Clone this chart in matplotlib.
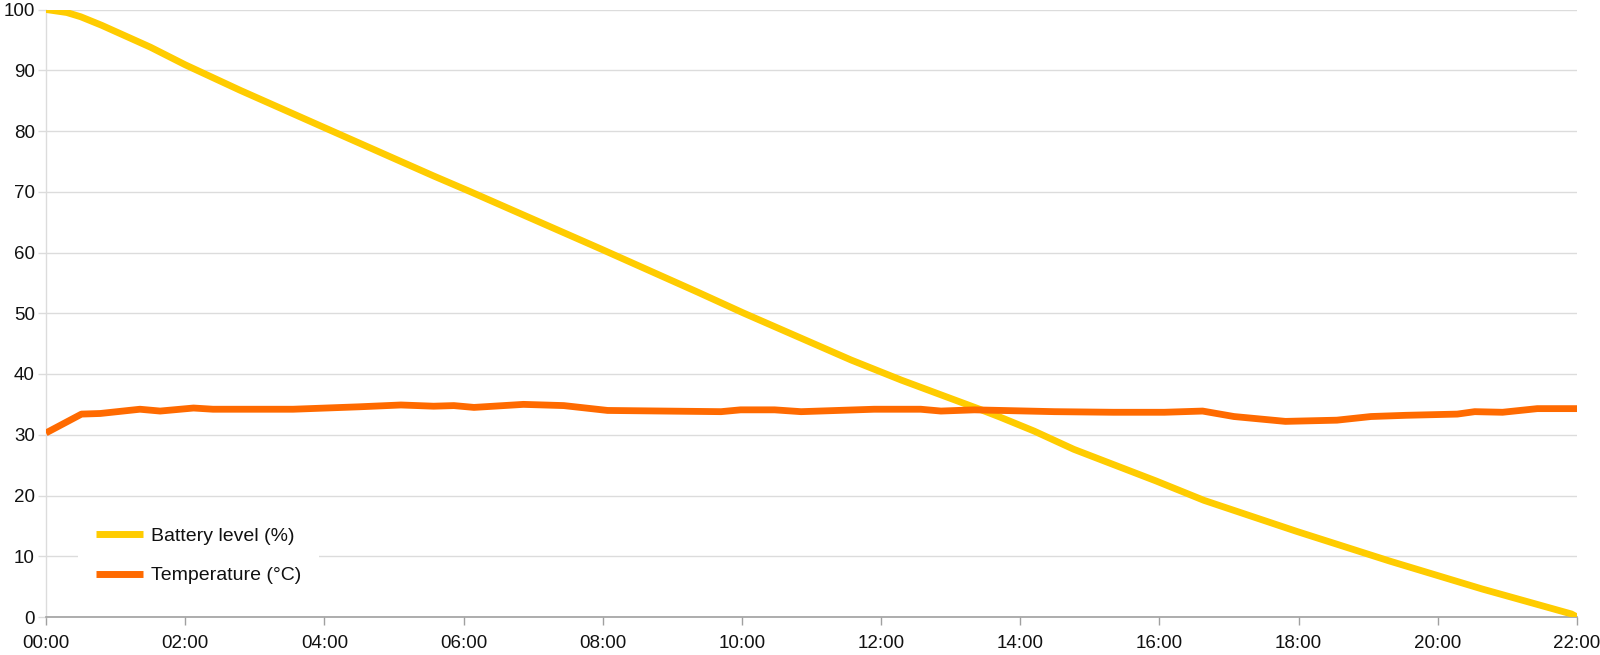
import matplotlib
matplotlib.use("Agg")
import matplotlib.pyplot as plt

# ---- data (hours since start) ----
battery_hours = [0.0, 0.3, 0.5, 0.8, 1.5, 2.0, 2.79, 4.09, 5.57, 6.1, 7.97, 9.36,
                 10.03, 11.57, 12.29, 13.44, 13.71, 14.2, 14.77, 15.95, 16.64,
                 17.97, 19.31, 20.64, 21.92, 22.0]
battery_level = [100.0, 99.5, 98.8, 97.4, 93.8, 90.9, 86.7, 80.1, 72.6, 70.0, 60.6, 53.5,
                 50.0, 42.3, 39.0, 34.1, 32.9, 30.6, 27.6, 22.4, 19.2,
                 14.1, 9.2, 4.6, 0.5, 0.0]

temp_hours = [0.0, 0.51, 0.78, 1.35, 1.64, 2.12, 2.4, 3.55, 4.5, 5.1, 5.57, 5.86,
              6.15, 6.86, 7.44, 8.07, 9.7, 9.98, 10.47, 10.85, 11.9, 12.57, 12.86,
              13.34, 14.49, 15.34, 16.07, 16.62, 17.07, 17.81, 18.55, 19.04, 19.54,
              20.28, 20.53, 20.93, 21.43, 22.0]
temperature = [30.3, 33.4, 33.5, 34.2, 33.9, 34.4, 34.2, 34.2, 34.6, 34.9, 34.7, 34.8,
               34.5, 35.0, 34.8, 34.0, 33.8, 34.1, 34.1, 33.8, 34.2, 34.2, 33.9,
               34.1, 33.8, 33.7, 33.7, 33.9, 33.0, 32.2, 32.4, 33.0, 33.2,
               33.4, 33.8, 33.7, 34.3, 34.3]

x_ticks = [0, 2, 4, 6, 8, 10, 12, 14, 16, 18, 20, 22]
x_tick_labels = ["00:00", "02:00", "04:00", "06:00", "08:00", "10:00",
                 "12:00", "14:00", "16:00", "18:00", "20:00", "22:00"]
y_ticks = [0, 10, 20, 30, 40, 50, 60, 70, 80, 90, 100]

series_names = ["Battery level (%)", "Temperature (°C)"]
battery_color = "#FFCC00"
temp_color = "#FF6A00"

plt.rcParams["font.family"] = ["Liberation Sans", "DejaVu Sans"]

W, H = 1600, 655
fig = plt.figure(figsize=(W / 100, H / 100), dpi=100)
left, right, top, bottom = 46, 1577, 9.5, 617
ax = fig.add_axes([left / W, 1 - bottom / H, (right - left) / W, (bottom - top) / H])

ax.plot(battery_hours, battery_level, color=battery_color, lw=4.9,
        solid_capstyle="butt", solid_joinstyle="round", label=series_names[0], zorder=3)
ax.plot(temp_hours, temperature, color=temp_color, lw=4.9,
        solid_capstyle="butt", solid_joinstyle="round", label=series_names[1], zorder=3)

ax.set_xlim(0, 22)
ax.set_ylim(0, 100)
ax.set_xticks(x_ticks)
ax.set_xticklabels(x_tick_labels)
ax.set_yticks(y_ticks)

ax.grid(axis="y", color="#dcdcdc", lw=1.0, zorder=0)
ax.set_axisbelow(True)

for s in ["top", "right"]:
    ax.spines[s].set_visible(False)
ax.spines["left"].set_color("#dcdcdc")
ax.spines["left"].set_linewidth(1.0)
ax.spines["bottom"].set_color("#a0a0a0")
ax.spines["bottom"].set_linewidth(1.2)

ax.tick_params(axis="x", length=6, width=1.0, color="#a0a0a0", pad=7,
               labelsize=13.5, labelcolor="#111111")
ax.tick_params(axis="y", length=6, width=1.0, color="#dcdcdc", pad=2,
               labelsize=13.5, labelcolor="#111111")

leg = ax.legend(loc="upper left", bbox_to_anchor=(78 / W, 1 - 510 / H),
                bbox_transform=fig.transFigure, fontsize=14, frameon=True,
                fancybox=False, edgecolor="none", facecolor="white", framealpha=1.0,
                handlelength=2.45, handletextpad=0.4, labelspacing=1.12,
                borderpad=0.9, borderaxespad=0)
for line in leg.get_lines():
    line.set_linewidth(5)
for t in leg.get_texts():
    t.set_color("#111111")

fig.savefig("out.png", dpi=100, facecolor="white")
